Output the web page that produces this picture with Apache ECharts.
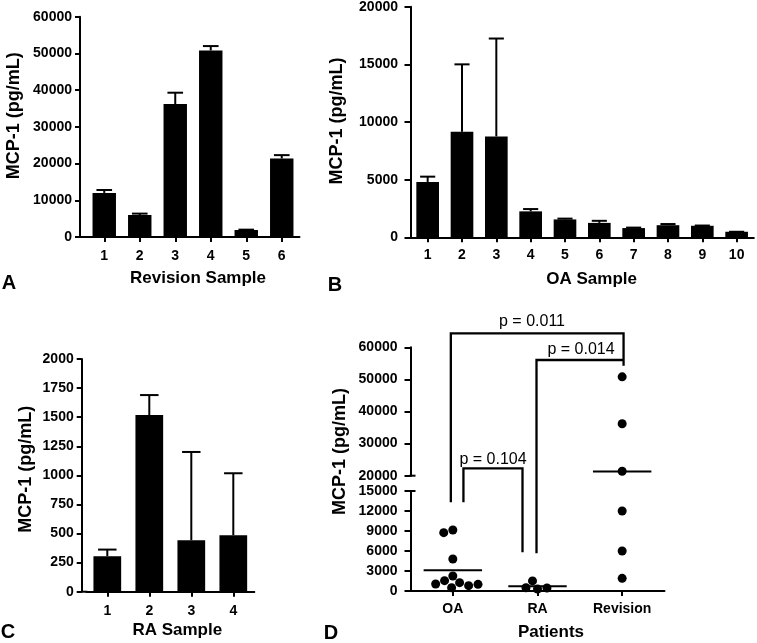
<!DOCTYPE html>
<html><head><meta charset="utf-8">
<script src="https://cdn.jsdelivr.net/npm/echarts@6/dist/echarts.min.js"></script>
<style>html,body{margin:0;padding:0;background:#fff}#c{width:757px;height:643px}</style>
</head><body><div id="c"></div>
<script>
// ---- data ----
const revisionSamples = ['1', '2', '3', '4', '5', '6'];
const revisionValues = [12000, 6000, 36200, 50800, 1900, 21400];
const revisionErr = [800, 370, 3100, 1200, 100, 900];

const oaSamples = ['1', '2', '3', '4', '5', '6', '7', '8', '9', '10'];
const oaValues = [4800, 9150, 8750, 2250, 1550, 1250, 800, 1050, 1000, 480];
const oaErr = [460, 5850, 8490, 200, 70, 180, 40, 100, 20, 0];

const raSamples = ['1', '2', '3', '4'];
const raValues = [305, 1518, 442, 485];
const raErr = [57, 172, 759, 533];

const patientGroups = ['OA', 'RA', 'Revision'];
const groupMeanLines = [3100, 700, 21300];
const pLabels = ['p = 0.011', 'p = 0.014', 'p = 0.104'];
const panelLetters = ['A', 'B', 'C', 'D'];
const yTitle = 'MCP-1 (pg/mL)';
const xTitles = ['Revision Sample', 'OA Sample', 'RA Sample', 'Patients'];

// ---- layout ----
const FONT = '"Liberation Sans", Arial, Helvetica, sans-serif';
const gA = {left: 86.5, top: 16.7, width: 213, height: 220.3};
const gB = {left: 410.5, top: 6.7, width: 343.3, height: 230.6};
const gC = {left: 86.3, top: 359, width: 168, height: 232.7};
const gDl = {left: 410.5, top: 491, width: 254, height: 100};
const gDu = {left: 410.5, top: 347.3, width: 254, height: 128.4};
const offA = 6.5, offC = 4.6;

const chart = echarts.init(document.getElementById('c'), null, {renderer: 'canvas'});

const axisLine = {show: true, onZero: false, lineStyle: {color: '#000', width: 2}};
const labelStyle = {color: '#000', fontFamily: FONT, fontWeight: 'bold', fontSize: 14};
const nameStyle = {color: '#000', fontFamily: FONT, fontWeight: 'bold', fontSize: 17};
const yNameStyle = {color: '#000', fontFamily: FONT, fontWeight: 'bold', fontSize: 18};

function grid(g) {
  return Object.assign({containLabel: false, outerBoundsMode: 'none'}, g);
}
function catAxis(gi, data, margin, name, nameGap, padLeft, extra) {
  return Object.assign({
    type: 'category', gridIndex: gi, data: data, boundaryGap: true,
    axisLine: axisLine,
    axisTick: {show: true, alignWithLabel: true, length: 5, lineStyle: {color: '#000', width: 2}},
    axisLabel: Object.assign({margin: margin, interval: 0}, labelStyle),
    splitLine: {show: false},
    name: name, nameLocation: 'middle', nameGap: nameGap,
    nameTextStyle: Object.assign({padding: [0, 0, 0, padLeft]}, nameStyle)
  }, extra || {});
}
function valAxis(gi, min, max, interval, margin, tickLen, offset, name, nameGap, padLeft) {
  return {
    type: 'value', gridIndex: gi, min: min, max: max, interval: interval, offset: offset,
    axisLine: axisLine,
    axisTick: {show: true, length: tickLen, lineStyle: {color: '#000', width: 2}},
    axisLabel: Object.assign({margin: margin, showMinLabel: true, showMaxLabel: true,
      formatter: v => String(v)}, labelStyle),
    splitLine: {show: false},
    name: name, nameLocation: 'middle', nameGap: nameGap,
    nameTextStyle: Object.assign({padding: [0, 0, 0, padLeft]}, yNameStyle)
  };
}
function barSeries(i, values) {
  return {type: 'bar', xAxisIndex: i, yAxisIndex: i, data: values, barWidth: '66%',
    itemStyle: {color: '#000', opacity: 1}, silent: true, animation: false};
}
function errSeries(i, values, errs) {
  return {
    type: 'custom', xAxisIndex: i, yAxisIndex: i, z: 3, silent: true, animation: false,
    data: values.map((v, k) => [k, v, v + errs[k]]),
    encode: {x: 0, y: [1, 2]},
    renderItem: function (params, api) {
      const k = api.value(0);
      const base = api.coord([k, api.value(1)]);
      const top = api.coord([k, api.value(2)]);
      const half = api.size([1, 0])[0] * 0.22;
      return {type: 'group', children: [
        {type: 'line', shape: {x1: base[0], y1: base[1], x2: top[0], y2: top[1]}, style: {stroke: '#000', lineWidth: 2}},
        {type: 'line', shape: {x1: top[0] - half, y1: top[1], x2: top[0] + half, y2: top[1]}, style: {stroke: '#000', lineWidth: 2}}
      ]};
    }
  };
}
function meanSeries(i, data) {
  return {
    type: 'custom', xAxisIndex: i, yAxisIndex: i, z: 4, silent: true, animation: false,
    data: data, encode: {x: 0, y: 1},
    renderItem: function (params, api) {
      const p = api.coord([api.value(0), api.value(1)]);
      const half = api.size([1, 0])[0] * 0.345;
      return {type: 'line', shape: {x1: p[0] - half, y1: p[1], x2: p[0] + half, y2: p[1]}, style: {stroke: '#000', lineWidth: 2}};
    }
  };
}

const allDots = [].concat(
  oaValues.map(v => ['OA', v]),
  raValues.map(v => ['RA', v]),
  revisionValues.map(v => ['Revision', v])
);
const lowDots = allDots.filter(d => d[1] <= 15000);
const highDots = allDots.filter(d => d[1] >= 20000);
const lowMeans = groupMeanLines.map((m, k) => [k, m]).filter(d => d[1] <= 15000);
const highMeans = groupMeanLines.map((m, k) => [k, m]).filter(d => d[1] >= 20000);

const jitterOpts = {jitter: 56, jitterOverlap: false, jitterMargin: 0.5};
const dotStyle = {color: '#000', opacity: 1, borderWidth: 0};

const option = {
  backgroundColor: '#fff',
  animation: false,
  grid: [grid(gA), grid(gB), grid(gC), grid(gDl), grid(gDu)],
  xAxis: [
    catAxis(0, revisionSamples, 12, xTitles[0], 32.5, 10),
    catAxis(1, oaSamples, 11, xTitles[1], 34, 19),
    catAxis(2, raSamples, 12.5, xTitles[2], 30, 14),
    catAxis(3, patientGroups, 11.5, xTitles[3], 33, 27, jitterOpts),
    Object.assign(catAxis(4, patientGroups, 11.5, '', 30, 0, jitterOpts),
      {axisLine: {show: false}, axisTick: {show: false}, axisLabel: {show: false}})
  ],
  yAxis: [
    valAxis(0, 0, 60000, 10000, 8, 5, offA, yTitle, 57, 22),
    valAxis(1, 0, 20000, 5000, 12.5, 6, 0, yTitle, 64, 2),
    valAxis(2, 0, 2000, 250, 8, 5, offC, yTitle, 47, 12),
    valAxis(3, 0, 15000, 3000, 13, 6, 0, '', 0, 0),
    valAxis(4, 20000, 60000, 10000, 13, 6, 0, '', 0, 0)
  ],
  series: [
    barSeries(0, revisionValues), errSeries(0, revisionValues, revisionErr),
    barSeries(1, oaValues), errSeries(1, oaValues, oaErr),
    barSeries(2, raValues), errSeries(2, raValues, raErr),
    {type: 'scatter', xAxisIndex: 3, yAxisIndex: 3, data: lowDots, symbolSize: 9,
      itemStyle: dotStyle, silent: true, clip: false, z: 5},
    {type: 'scatter', xAxisIndex: 4, yAxisIndex: 4, data: highDots, symbolSize: 9,
      itemStyle: dotStyle, silent: true, clip: false, z: 5},
    meanSeries(3, lowMeans), meanSeries(4, highMeans)
  ]
};
chart.setOption(option);

// ---- annotations (panel letters, D title, significance brackets) ----
const cx = k => chart.convertToPixel({gridIndex: 3}, [k, 0])[0];
const xOA = cx(0), xRA = cx(1), xRev = cx(2);
const lineSt = {stroke: '#000', lineWidth: 2.3, fill: null};
const pStyle = {fill: '#000', font: '16px ' + FONT, textAlign: 'center', textVerticalAlign: 'middle'};
const letterStyle = (t) => ({text: t, fill: '#000', font: 'bold 20px ' + FONT, textAlign: 'center', textVerticalAlign: 'middle'});
const yLow = chart.convertToPixel({gridIndex: 3}, [0, 15000])[1];
const yHigh = chart.convertToPixel({gridIndex: 4}, [0, 20000])[1];
const axX = gDl.left;

const graphics = [
  {type: 'text', x: 9, y: 283, style: letterStyle(panelLetters[0])},
  {type: 'text', x: 335, y: 285, style: letterStyle(panelLetters[1])},
  {type: 'text', x: 8, y: 632, style: letterStyle(panelLetters[2])},
  {type: 'text', x: 331, y: 633, style: letterStyle(panelLetters[3])},
  {type: 'text', x: 340, y: 451.5, rotation: Math.PI / 2,
    style: {text: yTitle, fill: '#000', font: 'bold 18px ' + FONT, textAlign: 'center', textVerticalAlign: 'middle'}},
  // axis corner joins for offset y axes
  {type: 'line', shape: {x1: gA.left - offA, y1: gA.top + gA.height, x2: gA.left + 1, y2: gA.top + gA.height}, style: {stroke: '#000', lineWidth: 2}},
  {type: 'line', shape: {x1: gC.left - offC, y1: gC.top + gC.height, x2: gC.left + 1, y2: gC.top + gC.height}, style: {stroke: '#000', lineWidth: 2}},
  // break caps on D axis
  {type: 'line', shape: {x1: axX - 1, y1: yLow, x2: axX + 5, y2: yLow}, style: {stroke: '#000', lineWidth: 2}},
  {type: 'line', shape: {x1: axX - 1, y1: yHigh, x2: axX + 5, y2: yHigh}, style: {stroke: '#000', lineWidth: 2}},
  // brackets
  {type: 'polyline', shape: {points: [[xOA - 2, 502.3], [xOA - 2, 333.3], [xRev + 1.4, 333.3], [xRev + 1.4, 365.7]]}, style: lineSt},
  {type: 'polyline', shape: {points: [[xRA - 1, 553.3], [xRA - 1, 360], [xRev + 1.4, 360]]}, style: lineSt},
  {type: 'polyline', shape: {points: [[xOA + 10.6, 502.3], [xOA + 10.6, 468.3], [xRA - 15, 468.3], [xRA - 15, 552.3]]}, style: lineSt},
  {type: 'text', x: 532, y: 322, style: Object.assign({text: pLabels[0]}, pStyle)},
  {type: 'text', x: 581, y: 350, style: Object.assign({text: pLabels[1]}, pStyle)},
  {type: 'text', x: 493, y: 459.5, style: Object.assign({text: pLabels[2]}, pStyle)}
];
chart.setOption({graphic: graphics.map(g => Object.assign({silent: true}, g))});
</script>
</body></html>
